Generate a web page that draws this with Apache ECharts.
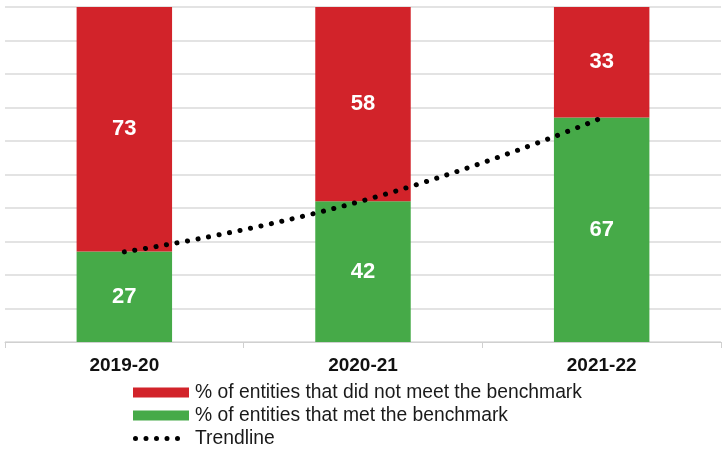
<!DOCTYPE html>
<html><head><meta charset="utf-8">
<script src="https://cdn.jsdelivr.net/npm/echarts@6/dist/echarts.min.js"></script>
<style>html,body{margin:0;padding:0;background:#fff}#c{width:723px;height:449px}</style>
</head><body><div id="c"></div>
<script>
var categories = ['2019-20', '2020-21', '2021-22'];
var metBenchmark = [27, 42, 67];
var notMetBenchmark = [73, 58, 33];
var trendline = [26.9, 42.2, 66.9];
var yTicks = [0, 10, 20, 30, 40, 50, 60, 70, 80, 90, 100];

function dotsIcon() {
  var r = 2.5, cy = 5, xs = [2.5, 13, 23.5, 34, 44.5];
  var p = 'path://M0,0 M56,10';
  xs.forEach(function (x) {
    p += ' M' + (x - r) + ',' + cy + ' a' + r + ',' + r + ' 0 1,0 ' + (2 * r) + ',0 a' + r + ',' + r + ' 0 1,0 ' + (-2 * r) + ',0 Z';
  });
  return p;
}

var chart = echarts.init(document.getElementById('c'));
var labelStyle = {show: true, position: 'inside', color: '#fff', fontFamily: 'Liberation Sans, Arial', fontWeight: 'bold', fontSize: 22, padding: [3, 0, 0, 0]};
chart.setOption({
  animation: false,
  grid: {left: 5, right: 2, top: 7, bottom: 107},
  legend: {
    orient: 'vertical', left: 133, top: 383, padding: 0,
    itemWidth: 56, itemHeight: 10, itemGap: 4,
    textStyle: {fontFamily: 'Liberation Sans, Arial', fontSize: 19.3, lineHeight: 19, color: '#1a1a1a', padding: [0, 0, 0, 1]},
    data: [
      {name: '% of entities that did not meet the benchmark', icon: 'rect'},
      {name: '% of entities that met the benchmark', icon: 'rect'},
      {name: 'Trendline', icon: dotsIcon()}
    ]
  },
  xAxis: {
    type: 'category', data: categories,
    axisLine: {lineStyle: {color: '#d0d0d0', width: 1}},
    axisTick: {show: true, length: 6, lineStyle: {color: '#d0d0d0'}},
    axisLabel: {fontFamily: 'Liberation Sans, Arial', fontWeight: 'bold', fontSize: 19, color: '#111', margin: 14}
  },
  yAxis: {
    type: 'value', min: yTicks[0], max: yTicks[yTicks.length - 1], interval: yTicks[1] - yTicks[0],
    axisLabel: {show: false}, axisLine: {show: false}, axisTick: {show: false},
    splitLine: {lineStyle: {color: '#dadada', width: 1.5}}
  },
  series: [
    {name: '% of entities that met the benchmark', type: 'bar', stack: 's', data: metBenchmark,
     barWidth: '40%', itemStyle: {color: '#46aa48'}, label: labelStyle},
    {name: '% of entities that did not meet the benchmark', type: 'bar', stack: 's', data: notMetBenchmark,
     barWidth: '40%', itemStyle: {color: '#d2232a'}, label: labelStyle},
    {name: 'Trendline', type: 'line', data: trendline, smooth: true, symbol: 'none', z: 5,
     itemStyle: {color: '#000'},
     lineStyle: {color: '#000', width: 5, type: [0.1, 10.6], cap: 'round'}}
  ]
});
</script></body></html>
